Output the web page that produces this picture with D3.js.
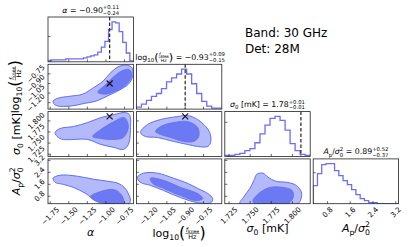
<!DOCTYPE html>
<html>
<head>
<meta charset="utf-8">
<script src="https://cdn.jsdelivr.net/npm/d3@7"></script>
<style>
  body { margin: 0; background: #fff; }
  svg { font-family: "DejaVu Sans", sans-serif; }
  svg text { white-space: pre; }
</style>
</head>
<body>
<div id="corner"></div>
<script>
var width = 411, height = 247;

// axis limits and ticks for the four parameters
var alphaDomain = [-1.78, -0.63];
var fkneeDomain = [-1.30, -0.60];
var sigmaDomain = [1.720, 1.821];
var apDomain = [0.3, 3.3];

var alphaTicks = [-1.75, -1.50, -1.25, -1.00, -0.75];
var fkneeTicks = [-1.20, -1.05, -0.90, -0.75];
var sigmaTicks = [1.725, 1.750, 1.775, 1.800];
var apTicks = [0.8, 1.6, 2.4, 3.2];

var alphaTickLabels = ["\u22121.75", "\u22121.50", "\u22121.25", "\u22121.00", "\u22120.75"];
var fkneeTickLabels = ["\u22121.20", "\u22121.05", "\u22120.90", "\u22120.75"];
var sigmaTickLabels = ["1.725", "1.750", "1.775", "1.800"];
var apTickLabels = ["0.8", "1.6", "2.4", "3.2"];

// reference values (dashed lines / crosses), none for Ap
var truths = [-0.95, -0.90, 1.81, null];

// 1D histograms (counts, bins spread evenly over the axis range)
var alphaCounts = [1, 2, 2, 2, 2, 3, 3, 3, 3, 3, 4, 5, 6, 7, 10, 15, 21, 33, 41, 40, 31, 20, 9, 1];
var fkneeCounts = [2, 5, 9, 13, 16, 21, 28, 32, 36, 41, 36, 26, 16, 8, 3, 1, 1];
var sigmaCounts = [1, 1, 2, 3, 6, 8, 14, 23, 32, 39, 41, 37, 27, 13, 6, 2, 1];
var apCounts = [18, 30, 39, 40, 40, 33, 28, 23, 19, 14, 9, 5, 3, 1, 1, 0, 0, 0, 0, 0];
var histTickValues = [26, null, 35, 31];

// summary numbers in the titles
var medians = ["\u22120.90", "\u22120.93", "1.78", "0.89"];
var errPlus = ["+0.11", "+0.09", "+0.01", "+0.52"];
var errMinus = ["\u22120.24", "\u22120.15", "\u22120.01", "\u22120.37"];

// 2D credible contours [x, y] (outer = 2 sigma, inner = 1 sigma)
var alphaFkneeOuter = [[-1.712, -1.176], [-1.643, -1.129], [-1.479, -1.098], [-1.314, -1.067], [-1.177, -0.973],
  [-1.040, -0.865], [-0.931, -0.725], [-0.821, -0.631], [-0.712, -0.616], [-0.643, -0.662], [-0.643, -0.802],
  [-0.698, -0.911], [-0.821, -1.005], [-0.985, -1.098], [-1.136, -1.176], [-1.273, -1.207], [-1.479, -1.253],
  [-1.643, -1.253], [-1.698, -1.222]];
var alphaFkneeInner = [[-1.109, -1.036], [-1.013, -0.927], [-0.903, -0.802], [-0.794, -0.709], [-0.698, -0.678],
  [-0.657, -0.725], [-0.670, -0.833], [-0.753, -0.942], [-0.876, -1.020], [-1.013, -1.067]];

var alphaSigmaOuter = [[-1.684, 1.7739], [-1.616, 1.7829], [-1.438, 1.7873], [-1.246, 1.7963], [-1.068, 1.8075],
  [-0.890, 1.8143], [-0.753, 1.8188], [-0.684, 1.8143], [-0.670, 1.7806], [-0.698, 1.7469], [-0.766, 1.7357],
  [-0.890, 1.7402], [-1.068, 1.7469], [-1.246, 1.7582], [-1.438, 1.7582], [-1.575, 1.7582], [-1.657, 1.7649]];
var alphaSigmaInner = [[-1.177, 1.7649], [-1.068, 1.7806], [-0.890, 1.7986], [-0.753, 1.8075], [-0.698, 1.7873],
  [-0.766, 1.7626], [-0.931, 1.7582], [-1.068, 1.7604]];

var alphaApOuter = [[-1.712, 2.004], [-1.616, 2.209], [-1.383, 2.140], [-1.164, 1.936], [-0.972, 1.800],
  [-0.835, 1.663], [-0.753, 1.391], [-0.698, 0.982], [-0.670, 0.505], [-0.698, 0.28], [-0.931, 0.28],
  [-1.136, 0.505], [-1.273, 0.982], [-1.438, 1.391], [-1.575, 1.595], [-1.684, 1.731]];
var alphaApInner = [[-1.205, 0.777], [-1.068, 1.118], [-0.903, 1.254], [-0.821, 1.050], [-0.766, 0.641],
  [-0.766, 0.28], [-0.958, 0.28], [-1.122, 0.436]];

var fkneeSigmaOuter = [[-1.267, 1.7739], [-1.209, 1.7918], [-1.102, 1.8031], [-0.962, 1.8098], [-0.880, 1.812],
  [-0.798, 1.8031], [-0.732, 1.7873], [-0.699, 1.7739], [-0.690, 1.7537], [-0.715, 1.7424], [-0.798, 1.7424],
  [-0.880, 1.7469], [-0.995, 1.7537], [-1.127, 1.7626], [-1.226, 1.7649]];
var fkneeSigmaInner = [[-1.143, 1.7761], [-1.102, 1.7873], [-0.995, 1.7963], [-0.880, 1.7986], [-0.798, 1.7851],
  [-0.789, 1.7649], [-0.830, 1.7537], [-0.913, 1.7537], [-1.020, 1.7626], [-1.102, 1.7694]];

var fkneeApOuter = [[-1.292, 2.072], [-1.242, 2.345], [-1.127, 2.345], [-0.995, 2.004], [-0.880, 1.663],
  [-0.798, 1.323], [-0.715, 0.982], [-0.674, 0.641], [-0.690, 0.368], [-0.798, 0.368], [-0.938, 0.709],
  [-1.078, 1.186], [-1.185, 1.527], [-1.267, 1.731]];
var fkneeApInner = [[-1.185, 2.004], [-1.078, 1.868], [-0.938, 1.391], [-0.798, 0.982], [-0.756, 0.641],
  [-0.814, 0.505], [-0.938, 0.845], [-1.078, 1.323], [-1.168, 1.663]];

var sigmaApOuter = [[1.7378, 0.28], [1.7426, 0.777], [1.7497, 1.323], [1.7545, 1.868], [1.7580, 2.277],
  [1.7652, 2.345], [1.7711, 2.072], [1.7806, 1.800], [1.7937, 1.731], [1.8044, 1.527], [1.8103, 1.118],
  [1.8103, 0.641], [1.8056, 0.28]];
var sigmaApInner = [[1.7557, 0.28], [1.7533, 0.505], [1.7616, 1.050], [1.7735, 1.391], [1.7889, 1.391],
  [1.7996, 1.186], [1.8008, 0.709], [1.7937, 0.28]];

var svg = d3.select("#corner").append("svg")
  .attr("width", width).attr("height", height);

var leftX0 = 48, topY0 = 17, colStep = 88.4, rowStep = 47.3, pw = 85.4, ph = 44.8;
function px(i) { return leftX0 + i * colStep; }
function py(j) { return topY0 + j * rowStep; }

var domains = [alphaDomain, fkneeDomain, sigmaDomain, apDomain];
var ticks = [alphaTicks, fkneeTicks, sigmaTicks, apTicks];
var tickLabels = [alphaTickLabels, fkneeTickLabels, sigmaTickLabels, apTickLabels];
var counts = [alphaCounts, fkneeCounts, sigmaCounts, apCounts];

var xs = domains.map(function(d, i) { return d3.scaleLinear().domain(d).range([px(i), px(i) + pw]); });
var ys = domains.map(function(d, j) { return d3.scaleLinear().domain(d).range([py(j) + ph, py(j)]); });

var histColor = "#6c6cf7", lineColor = "#5f6ef2", outerFill = "#b3b9f9", innerFill = "#6b7af2";

// little mathtext layout: tokens with scale / vertical shift / stacked sub-sup / fractions
function layout(g, tokens, size, x0, y0) {
  var x = x0, pending = 0;
  tokens.forEach(function(tk) {
    if (tk.frac) {
      var s = size * 0.58;
      var gn = g.append("g"), gd = g.append("g");
      var wn = layout(gn, tk.frac[0], s, 0, 0);
      var wd = layout(gd, tk.frac[1], s, 0, 0);
      var w = Math.max(wn, wd) + 1;
      gn.attr("transform", "translate(" + (x + (w - wn) / 2) + "," + (y0 - size * 0.5) + ")");
      gd.attr("transform", "translate(" + (x + (w - wd) / 2) + "," + (y0 + size * 0.22) + ")");
      g.append("line").attr("x1", x).attr("x2", x + w)
        .attr("y1", y0 - size * 0.33).attr("y2", y0 - size * 0.33)
        .attr("stroke", "#000").attr("stroke-width", 0.5);
      x += w;
      return;
    }
    var s = size * (tk.scale || 1);
    var t = g.append("text")
      .attr("x", x).attr("y", y0 + (tk.dy || 0) * size)
      .attr("font-size", s)
      .style("font-style", tk.it ? "italic" : "normal")
      .text(tk.t);
    var w = t.node().getComputedTextLength();
    if (tk.stack) { pending = w; }
    else { x += Math.max(w, pending); pending = 0; }
  });
  return x - x0;
}

function mathLabel(tokens, size, cx, cy, rotate) {
  var g = svg.append("g");
  var inner = g.append("g");
  var w = layout(inner, tokens, size, 0, 0);
  inner.attr("transform", "translate(" + (-w / 2) + ",0)");
  g.attr("transform", "translate(" + cx + "," + cy + ")" + (rotate ? " rotate(" + rotate + ")" : ""));
  return g;
}

function fkneeTokens() {
  return [{t: "log"}, {t: "10", scale: 0.7, dy: 0.28}, {t: "(", scale: 1.45, dy: 0.12},
    {frac: [[{t: "f", it: true}, {t: "knee", scale: 0.7, dy: 0.18}], [{t: "Hz"}]]},
    {t: ")", scale: 1.45, dy: 0.12}];
}
var nameTokens = [
  [{t: "\u03b1", it: true}],
  fkneeTokens(),
  [{t: "\u03c3", it: true}, {t: "0", scale: 0.7, dy: 0.28}, {t: " [mK]"}],
  [{t: "A", it: true}, {t: "p", scale: 0.7, dy: 0.28}, {t: "/"}, {t: "\u03c3", it: true},
    {t: "0", scale: 0.7, dy: 0.3, stack: true}, {t: "2", scale: 0.7, dy: -0.42}]
];

// diagonal histograms
for (var i = 0; i < 4; i++) {
  var c = counts[i];
  var d = domains[i];
  var step = (d[1] - d[0]) / c.length;
  var hy = d3.scaleLinear().domain([0, d3.max(c) * 1.12]).range([py(i) + ph, py(i)]);
  var pts = [[d[0], 0]];
  c.forEach(function(v, k) { pts.push([d[0] + k * step, v]); });
  pts.push([d[1], c[c.length - 1]]);
  pts.push([d[1], 0]);

  var clipId = "clip" + i + i;
  svg.append("clipPath").attr("id", clipId).append("rect")
    .attr("x", px(i)).attr("y", py(i)).attr("width", pw).attr("height", ph);
  var g = svg.append("g").attr("clip-path", "url(#" + clipId + ")");
  g.append("path")
    .datum(pts)
    .attr("d", d3.line().x(function(p) { return xs[i](p[0]); }).y(function(p) { return hy(p[1]); })
      .curve(d3.curveStepAfter))
    .attr("fill", "none").attr("stroke", histColor).attr("stroke-width", 1.3);
  if (truths[i] !== null) {
    g.append("line")
      .attr("x1", xs[i](truths[i])).attr("x2", xs[i](truths[i]))
      .attr("y1", py(i)).attr("y2", py(i) + ph)
      .attr("stroke", "#222").attr("stroke-width", 1.2).attr("stroke-dasharray", "3.5,2");
  }
  if (histTickValues[i] !== null) {
    svg.append("line").attr("x1", px(i)).attr("x2", px(i) + 2.5)
      .attr("y1", hy(histTickValues[i])).attr("y2", hy(histTickValues[i]))
      .attr("stroke", "#000").attr("stroke-width", 0.6);
  }
  // title above each histogram
  var tt = (i === 1 ? fkneeTokens() : nameTokens[i].slice());
  tt = tt.concat([{t: " = " + medians[i]},
    {t: errPlus[i], scale: 0.68, dy: -0.45, stack: true}, {t: errMinus[i], scale: 0.68, dy: 0.3}]);
  mathLabel(tt, 7.8, px(i) + pw / 2 + (i === 1 ? 1 : 0), py(i) - 4.5);
}

// off-diagonal contour panels
var pairs = [
  {i: 0, j: 1, outer: alphaFkneeOuter, inner: alphaFkneeInner},
  {i: 0, j: 2, outer: alphaSigmaOuter, inner: alphaSigmaInner},
  {i: 0, j: 3, outer: alphaApOuter, inner: alphaApInner},
  {i: 1, j: 2, outer: fkneeSigmaOuter, inner: fkneeSigmaInner},
  {i: 1, j: 3, outer: fkneeApOuter, inner: fkneeApInner},
  {i: 2, j: 3, outer: sigmaApOuter, inner: sigmaApInner}
];

pairs.forEach(function(p) {
  var clipId = "clip" + p.i + p.j;
  svg.append("clipPath").attr("id", clipId).append("rect")
    .attr("x", px(p.i)).attr("y", py(p.j)).attr("width", pw).attr("height", ph);
  var g = svg.append("g").attr("clip-path", "url(#" + clipId + ")");
  var line = d3.line()
    .x(function(q) { return xs[p.i](q[0]); })
    .y(function(q) { return ys[p.j](q[1]); })
    .curve(d3.curveCatmullRomClosed.alpha(0.5));
  g.append("path").datum(p.outer).attr("d", line)
    .attr("fill", outerFill).attr("stroke", lineColor).attr("stroke-width", 1);
  g.append("path").datum(p.inner).attr("d", line)
    .attr("fill", innerFill).attr("stroke", lineColor).attr("stroke-width", 0.8);
  if (truths[p.i] !== null && truths[p.j] !== null) {
    g.append("path")
      .attr("transform", "translate(" + xs[p.i](truths[p.i]) + "," + ys[p.j](truths[p.j]) + ")")
      .attr("d", "M-3,-3L3,3M-3,3L3,-3")
      .attr("stroke", "#111").attr("stroke-width", 1.1);
  }
});

// frames and ticks
for (var j = 0; j < 4; j++) {
  for (var i = 0; i <= j; i++) {
    var x0 = px(i), y0 = py(j);
    var g = svg.append("g");
    ticks[i].forEach(function(t) {
      g.append("line").attr("x1", xs[i](t)).attr("x2", xs[i](t))
        .attr("y1", y0 + ph).attr("y2", y0 + ph - 2.5)
        .attr("stroke", "#000").attr("stroke-width", 0.6);
    });
    if (i !== j) {
      ticks[j].forEach(function(t) {
        g.append("line").attr("x1", x0).attr("x2", x0 + 2.5)
          .attr("y1", ys[j](t)).attr("y2", ys[j](t))
          .attr("stroke", "#000").attr("stroke-width", 0.6);
      });
    }
    g.append("rect").attr("x", x0).attr("y", y0).attr("width", pw).attr("height", ph)
      .attr("fill", "none").attr("stroke", "#222").attr("stroke-width", 0.8);
  }
}

var tickFont = 7.2;
// bottom row x tick labels, rotated 45 deg and centred on the tick
for (var i = 0; i < 4; i++) {
  ticks[i].forEach(function(t, k) {
    var txt = svg.append("text").attr("font-size", tickFont)
      .attr("text-anchor", "middle").attr("dominant-baseline", "central")
      .text(tickLabels[i][k]);
    var w = txt.node().getComputedTextLength();
    var h = (w + tickFont) * 0.7071;
    var cx = xs[i](t), cy = py(3) + ph + 2 + h / 2;
    txt.attr("transform", "translate(" + cx + "," + cy + ") rotate(-45)");
  });
}
// left column y tick labels
for (var j = 1; j < 4; j++) {
  ticks[j].forEach(function(t, k) {
    var txt = svg.append("text").attr("font-size", tickFont)
      .attr("text-anchor", "middle").attr("dominant-baseline", "central")
      .text(tickLabels[j][k]);
    var w = txt.node().getComputedTextLength();
    var bw = (w + tickFont) * 0.7071;
    var cx = px(0) - 2 - bw / 2, cy = ys[j](t);
    txt.attr("transform", "translate(" + cx + "," + cy + ") rotate(-45)");
  });
}

// axis names
var bottomY = [236, 237, 232, 232];
for (var i = 0; i < 4; i++) {
  mathLabel(nameTokens[i], 11, px(i) + pw / 2, bottomY[i]);
}
var leftX = [0, 19, 20, 20];
for (var j = 1; j < 4; j++) {
  mathLabel(nameTokens[j], 11, leftX[j], py(j) + ph / 2, -90);
}

svg.append("text").attr("x", 245).attr("y", 37).attr("font-size", 12).text("Band: 30 GHz");
svg.append("text").attr("x", 245).attr("y", 53).attr("font-size", 12).text("Det: 28M");
</script>
</body>
</html>
